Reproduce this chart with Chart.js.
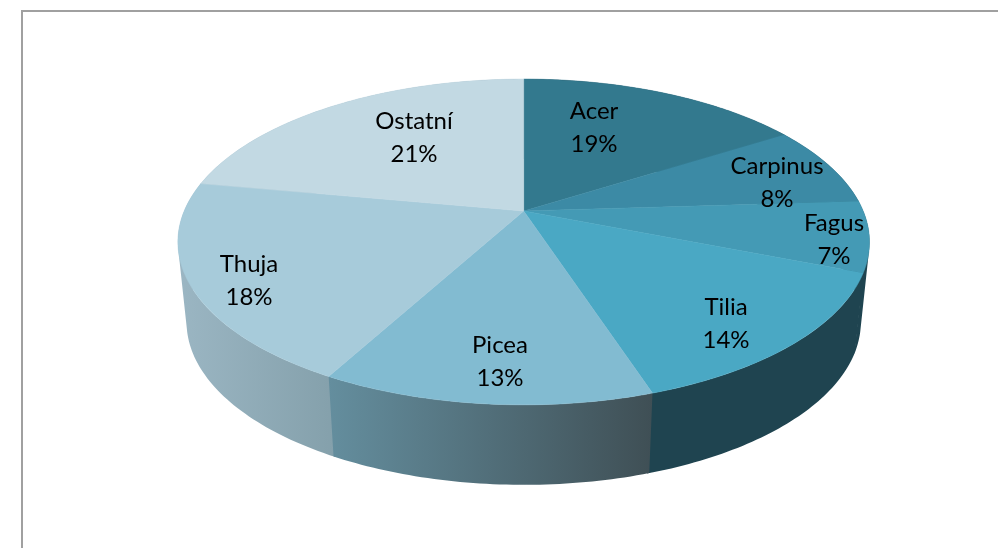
<!DOCTYPE html>
<html>
<head>
<meta charset="utf-8">
<style>
    html, body { margin: 0; padding: 0; width: 998px; height: 548px; overflow: hidden; background: #fff; }
    #frame { position: absolute; left: 21px; top: 10px; width: 1000px; height: 600px; box-sizing: border-box; border: 2.5px solid #a0a0a0; }
    #graf { position: absolute; left: 0; top: 0; }
</style>
<script src="https://cdn.jsdelivr.net/npm/chart.js@4/dist/chart.umd.min.js"></script>
</head>
<body>
<div id="frame"></div>
<div style="position:absolute;left:0;top:0;width:998px;height:548px"><canvas id="graf" width="998" height="548"></canvas></div>
<script>
const categorias = ['Acer', 'Carpinus', 'Fagus', 'Tilia', 'Picea', 'Thuja', 'Ostatní'];
const valores = [19, 8, 7, 14, 13, 18, 21];

// Colores de la cara superior y del lateral (inicio, fin de cada degradado)
const colores = ['#33798e', '#3c8aa5', '#449ab5', '#4aa8c4', '#82bbd1', '#a7cbda', '#c2d9e3'];
const lateral = [
    ['#1f4450', '#1f4450'], ['#1f4450', '#1f4450'], ['#1f4450', '#1f4450'], ['#1f4450', '#1f4450'],
    ['#648e9e', '#3f4f55'], ['#9bb6c3', '#84a0ab'], ['#9bb6c3', '#9bb6c3']
];

// Centro de cada etiqueta en pantalla
const posEtiquetas = [[594, 111], [777, 166], [834, 223], [726, 307], [500, 345], [249, 264], [414, 121]];

// Perspectiva del pastel 3D: la tapa y la base son el mismo circulo proyectado
const tapa = { cx: 523.7, cy: 211, a: 339.5, b: 157, p: -0.19 };
const base = { cx: 523.7, cy: 291, a: 331, b: 157, p: -0.19 };

// Excel no dibuja los angulos proporcionales en su 3D: grados reales -> desvio en pantalla
const desvio = [[0, 0], [68.4, -10.7], [219.6, -11], [284.4, -4], [360, 0]];

function deformar(t) {
    const g = t * 180 / Math.PI;
    for (let i = 1; i < desvio.length; i++) {
        if (g <= desvio[i][0]) {
            const [g0, d0] = desvio[i - 1];
            const [g1, d1] = desvio[i];
            return (g + d0 + (d1 - d0) * (g - g0) / (g1 - g0)) * Math.PI / 180;
        }
    }
    return t;
}

// t: angulo de Chart.js, en radianes
function proyectar(cara, t) {
    const th = deformar(t + Math.PI / 2);
    const u = Math.sin(th), v = -Math.cos(th);
    const w = 1 + cara.p * v;
    return [cara.cx + cara.a * u / w, cara.cy + cara.b * v / w];
}

function borde(cara, ini, fin) {
    const pasos = Math.max(8, Math.ceil(Math.abs(fin - ini) * 60));
    const pts = [];
    for (let i = 0; i <= pasos; i++) pts.push(proyectar(cara, ini + (fin - ini) * i / pasos));
    return pts;
}

function anadir(ctx, pts) {
    pts.forEach((p, i) => i ? ctx.lineTo(p[0], p[1]) : ctx.moveTo(p[0], p[1]));
    ctx.closePath();
}

function area(pts) {
    let s = 0;
    pts.forEach((p, i) => {
        const q = pts[(i + 1) % pts.length];
        s += p[0] * q[1] - q[0] * p[1];
    });
    return s;
}

const pastel3d = {
    id: 'pastel3d',
    beforeDatasetDraw(chart, args) {
        const ctx = chart.ctx;
        const arcos = chart.getDatasetMeta(args.index).data;
        ctx.save();
        // lateral: de atras hacia delante. Tiras con la misma orientacion en un solo
        // trazado, asi cubre la silueta y no quedan costuras
        const orden = [0, 1, 6, 2, 5, 3, 4];
        const solape = 0.006;
        orden.forEach(i => {
            const a = arcos[i];
            const ini = a.startAngle - (i === 4 ? 0 : solape);
            const fin = a.endAngle + (i === 4 ? 0 : solape);
            const arriba = borde(tapa, ini, fin);
            const abajo = borde(base, ini, fin);
            const xs = arriba.concat(abajo).map(p => p[0]);
            const g = ctx.createLinearGradient(Math.min(...xs), 0, Math.max(...xs), 0);
            g.addColorStop(0, lateral[i][0]);
            g.addColorStop(1, lateral[i][1]);
            ctx.beginPath();
            for (let k = 1; k < arriba.length; k++) {
                const tira = [arriba[k - 1], arriba[k], abajo[k], abajo[k - 1]];
                anadir(ctx, area(tira) < 0 ? tira.reverse() : tira);
            }
            ctx.fillStyle = g;
            ctx.fill();
        });
        // cara superior
        arcos.forEach(a => {
            const pts = [[tapa.cx, tapa.cy]].concat(borde(tapa, a.startAngle, a.endAngle));
            ctx.beginPath();
            anadir(ctx, pts);
            ctx.fillStyle = a.options.backgroundColor;
            ctx.strokeStyle = a.options.backgroundColor;
            ctx.lineWidth = 0.5;
            ctx.fill();
            ctx.stroke();
        });
        ctx.restore();
        return false;
    },
    afterDraw(chart) {
        const ctx = chart.ctx;
        ctx.save();
        ctx.font = '24px Lato';
        ctx.fillStyle = '#000';
        ctx.textAlign = 'center';
        ctx.textBaseline = 'middle';
        categorias.forEach((c, i) => {
            ctx.fillText(c, posEtiquetas[i][0], posEtiquetas[i][1]);
            ctx.fillText(valores[i] + '%', posEtiquetas[i][0], posEtiquetas[i][1] + 33);
        });
        ctx.restore();
    }
};

document.addEventListener('DOMContentLoaded', function() {
    const ctx = document.getElementById('graf').getContext('2d');
    new Chart(ctx, {
        type: 'pie',
        data: {
            labels: categorias,
            datasets: [{
                data: valores,
                backgroundColor: colores,
                borderWidth: 0
            }]
        },
        options: {
            responsive: false,
            animation: false,
            plugins: {
                legend: { display: false },
                tooltip: { enabled: false }
            }
        },
        plugins: [pastel3d]
    });
});
</script>
</body>
</html>
